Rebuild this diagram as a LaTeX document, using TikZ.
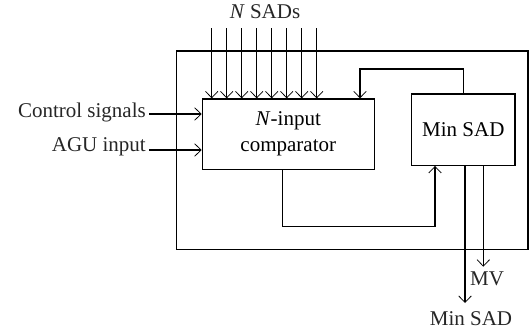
\documentclass[tikz,border=0pt]{standalone}
\usepackage{fontspec}
\setmainfont{Liberation Serif}
\usetikzlibrary{arrows.meta,calc}
\begin{document}
\begin{tikzpicture}[x=1pt,y=-1pt,
  every node/.style={font=\fontsize{21}{26}\selectfont, inner sep=0pt},
  blk/.style={draw, line width=1.2pt, align=center},
  wire/.style={line width=1.1pt},
  arr/.style={wire, -{Straight Barb[length=6.5pt,width=12.5pt,line width=0.75pt]}},
  lbl/.style={text=black!85}]
\useasboundingbox (0,0) rectangle (530,332);
% outer frame
\draw[wire] (176.5,51) rectangle (528,249.5);
% blocks
\node[blk, minimum width=172pt, minimum height=70.5pt] (comp) at (288.3,134.2) {\textit{N}-input\\comparator};
\node[blk, minimum width=103.3pt, minimum height=71.3pt] (minsad) at (463.3,129.7) {Min SAD};
% N SADs inputs
\node[lbl] (nsads) at (265,12) {\textit{N} SADs};
\foreach \i in {0,...,7}{
  \coordinate (s\i) at ({211.7+15*\i},28);
  \draw[arr] (s\i) -- (s\i |- comp.north);
}
% side inputs
\node[lbl, anchor=east] (ctl) at (146,112) {Control signals};
\node[lbl, anchor=east] (agu) at (146,147) {AGU input};
\coordinate (ctlp) at (149.3,114);
\coordinate (agup) at (149.3,150);
\draw[arr] (ctlp) -- (ctlp -| comp.west);
\draw[arr] (agup) -- (agup -| comp.west);
% feedback
\coordinate (fb) at (360,69);
\draw[arr] (minsad.north) |- (fb) -- (fb |- comp.north);
% comparator to min sad
\coordinate (c1) at (282.7,226.7);
\coordinate (c2) at (435,226.7);
\draw[arr] (c1 |- comp.south) -- (c1) -- (c2) -- (c2 |- minsad.south);
% outputs
\coordinate (o1) at (465,303);
\coordinate (o2) at (483.3,266.7);
\draw[arr] (o1 |- minsad.south) -- (o1);
\draw[arr] (o2 |- minsad.south) -- (o2);
\node[lbl] (mv) at (487,279) {MV};
\node[lbl] (minout) at (471,319) {Min SAD};
\end{tikzpicture}
\end{document}
